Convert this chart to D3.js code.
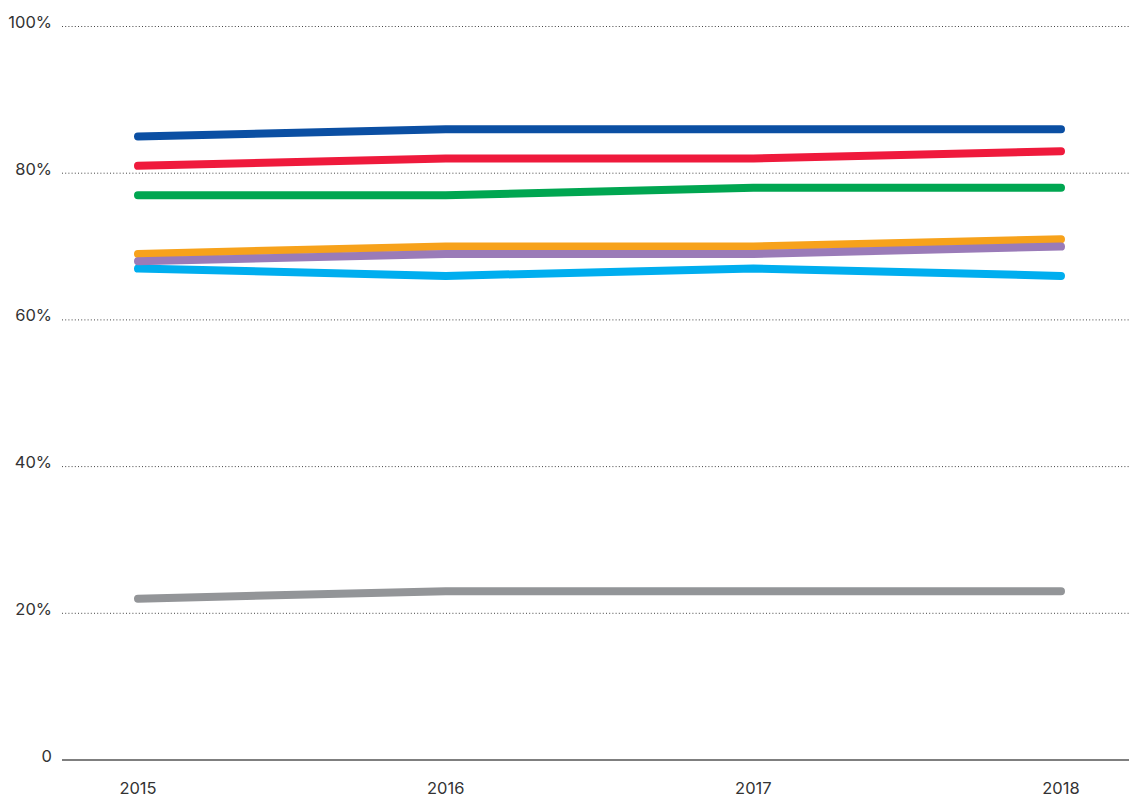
<!DOCTYPE html>
<html>
<head>
<meta charset="utf-8">
<script src="https://cdn.jsdelivr.net/npm/d3@7"></script>
<style>
  body { margin: 0; background: #fff; }
  text { font-family: Inter, "DejaVu Sans", sans-serif; }
</style>
</head>
<body>
<div class="chart"></div>
<script>
// data
const years = [2015, 2016, 2017, 2018];
const yTicks = [0, 20, 40, 60, 80, 100];
const blueSeries   = [85, 86, 86, 86];
const redSeries    = [81, 82, 82, 83];
const greenSeries  = [77, 77, 78, 78];
const orangeSeries = [69, 70, 70, 71];
const purpleSeries = [68, 69, 69, 70];
const cyanSeries   = [67, 66, 67, 66];
const graySeries   = [22, 23, 23, 23];

// draw order bottom -> top
const series = [
  { values: graySeries,   color: '#939598' },
  { values: cyanSeries,   color: '#00aeef' },
  { values: orangeSeries, color: '#f7a21b' },
  { values: purpleSeries, color: '#9a7bb8' },
  { values: greenSeries,  color: '#00a651' },
  { values: redSeries,    color: '#ef1a3c' },
  { values: blueSeries,   color: '#0b4fa3' }
];

const svg_width = 1129;
const svg_height = 798;

const svg = d3.select('.chart').append('svg')
  .attr('width', svg_width).attr('height', svg_height);

// scales
const xScale = d3.scaleLinear().domain([2015, 2018]).range([138, 1061]);
const yScale = d3.scaleLinear().domain([0, 100]).range([760, 26.5]);

// grid lines (dotted)
svg.append('g').selectAll('line')
  .data(yTicks.filter(d => d > 0))
  .enter().append('line')
  .attr('x1', 62).attr('x2', svg_width)
  .attr('y1', d => yScale(d)).attr('y2', d => yScale(d))
  .style('stroke', '#444')
  .style('stroke-width', 1)
  .style('stroke-dasharray', '1,2.2');

// baseline
svg.append('line')
  .attr('x1', 62).attr('x2', svg_width)
  .attr('y1', yScale(0)).attr('y2', yScale(0))
  .style('stroke', '#555').style('stroke-width', 1.5);

// y labels
svg.append('g').selectAll('text')
  .data(yTicks)
  .enter().append('text')
  .attr('x', 52)
  .attr('y', d => yScale(d) + 1.5)
  .attr('text-anchor', 'end')
  .style('font-size', '16.5px')
  .style('fill', '#333')
  .text(d => d === 0 ? '0' : d + '%');

// x labels
svg.append('g').selectAll('text')
  .data(years)
  .enter().append('text')
  .attr('x', d => xScale(d))
  .attr('y', 794)
  .attr('text-anchor', 'middle')
  .style('font-size', '16.5px')
  .style('fill', '#333')
  .text(d => d);

// lines
const line = d3.line()
  .x((d, i) => xScale(years[i]))
  .y(d => yScale(d));

svg.append('g').selectAll('path')
  .data(series)
  .enter().append('path')
  .attr('d', d => line(d.values))
  .style('fill', 'none')
  .style('stroke', d => d.color)
  .style('stroke-width', 8)
  .style('stroke-linecap', 'round')
  .style('stroke-linejoin', 'round');
</script>
</body>
</html>
